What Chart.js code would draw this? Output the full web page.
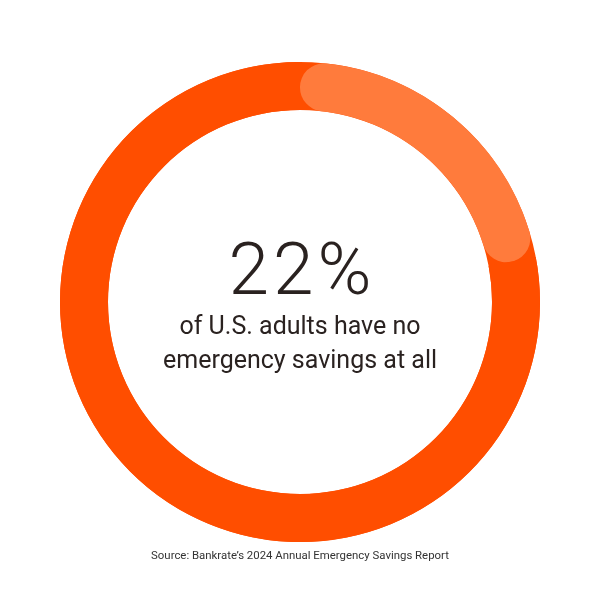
<!DOCTYPE html>
<html><head><meta charset="utf-8">
<script src="https://cdn.jsdelivr.net/npm/chart.js@4.4.1/dist/chart.umd.min.js"></script>
<style>html,body{margin:0;padding:0;background:#fff;}#wrap{width:600px;height:600px;position:relative;}</style>
</head><body><div id="wrap"><canvas id="c" width="600" height="600"></canvas></div>
<script>
const categories = ["No emergency savings", "Have emergency savings"];
const values = [22, 78];
const headline = "22%";
const captionLines = ["of U.S. adults have no", "emergency savings at all"];
const sourceText = "Source: Bankrate\u2019s 2024 Annual Emergency Savings Report";

const LIGHT = "#FF7B3C", DARK = "#FF4E00", TEXT = "#2a2220";

const ringBg = {
  id: "ringBg",
  beforeDatasetsDraw(chart) {
    const el = chart.getDatasetMeta(0).data[0];
    if (!el) return;
    const {x, y, innerRadius, outerRadius} = el.getProps(["x","y","innerRadius","outerRadius"], true);
    const ctx = chart.ctx;
    ctx.save();
    ctx.beginPath();
    ctx.arc(x, y, outerRadius, 0, Math.PI * 2);
    ctx.arc(x, y, innerRadius, Math.PI * 2, 0, true);
    ctx.closePath();
    ctx.fillStyle = DARK;
    ctx.fill();
    ctx.restore();
  },
  afterDraw(chart) {
    const el = chart.getDatasetMeta(0).data[0];
    const ctx = chart.ctx;
    const cx = el.x, cy = el.y;
    ctx.save();
    ctx.fillStyle = TEXT;
    ctx.textAlign = "center";
    ctx.textBaseline = "alphabetic";
    ctx.font = "300 73px Roboto";
    ctx.letterSpacing = "4px";
    ctx.fillText(headline, cx + 2, cy - 8);
    ctx.letterSpacing = "0px";
    ctx.font = "400 25px Roboto";
    ctx.fillText(captionLines[0], cx, cy + 32);
    ctx.fillText(captionLines[1], cx, cy + 66);
    ctx.fillStyle = "#333";
    ctx.font = "400 11.4px Roboto";
    ctx.fillText(sourceText, 300, 559);
    ctx.restore();
  }
};

new Chart(document.getElementById("c"), {
  type: "doughnut",
  data: {
    labels: categories,
    datasets: [{
      data: values,
      backgroundColor: [LIGHT, DARK],
      borderWidth: 0,
      borderRadius: [24, 0]
    }]
  },
  options: {
    responsive: false,
    animation: false,
    cutout: "80%",
    layout: {padding: {top: 61, bottom: 57, left: 60, right: 60}},
    plugins: {legend: {display: false}, tooltip: {enabled: false}}
  },
  plugins: [ringBg]
});
</script></body></html>
